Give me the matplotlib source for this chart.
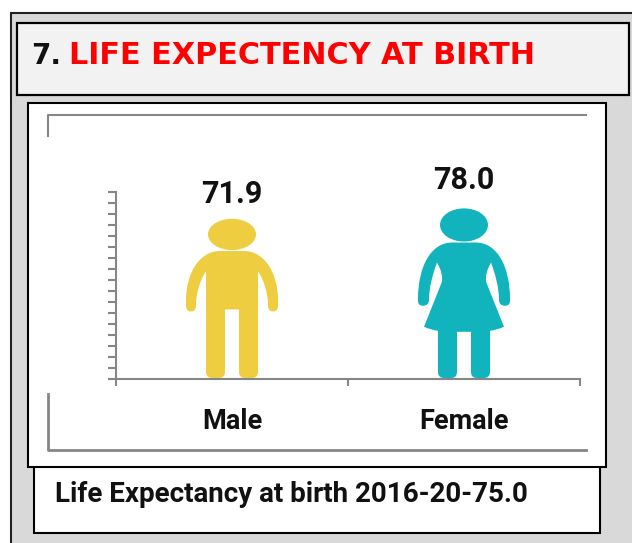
import matplotlib
matplotlib.use("Agg")
import matplotlib.pyplot as plt
from matplotlib.patches import Rectangle, Ellipse, PathPatch
from matplotlib.path import Path

# data
categories = ["Male", "Female"]
life_expectancy = [71.9, 78.0]
icon_colors = ["#EFCD41", "#11B4BD"]
y_ticks = list(range(0, 90, 5))
section_number = "7."
section_title = "LIFE EXPECTENCY AT BIRTH"
footer_note = "Life Expectancy at birth 2016-20-75.0"

W, H = 632, 543
GREY = "#868686"
BODY_FONT = "Roboto"

# icon outlines, right half only: (x, height) in px of the drawn figure
MALE_HALF = [
    (Path.LINETO, [(12, 127)]),
    (Path.CURVE4, [(32, 127), (46, 106), (46, 78)]),
    (Path.LINETO, [(46, 73)]),
    (Path.CURVE3, [(46, 67), (41, 67)]),
    (Path.CURVE3, [(36, 67), (36, 73)]),
    (Path.CURVE4, [(36, 85), (32, 98), (26, 107)]),
    (Path.LINETO, [(26, 7)]),
    (Path.CURVE3, [(26, 1), (20, 1)]),
    (Path.LINETO, [(13, 1)]),
    (Path.CURVE3, [(7, 1), (7, 7)]),
    (Path.LINETO, [(7, 69)]),
    (Path.LINETO, [(0, 69)]),
]
MALE_START = (0, 127)
MALE_HEAD = (143.5, 48, 31)

FEMALE_HALF = [
    (Path.LINETO, [(12, 136)]),
    (Path.CURVE4, [(33, 136), (46, 112), (46, 80)]),
    (Path.LINETO, [(46, 78)]),
    (Path.CURVE3, [(46, 73), (41, 73)]),
    (Path.CURVE3, [(35, 73), (35, 79)]),
    (Path.CURVE4, [(35, 92), (31, 105), (27, 116)]),
    (Path.CURVE3, [(21, 106), (22, 97)]),
    (Path.LINETO, [(40, 52)]),
    (Path.CURVE3, [(33, 49), (26, 48)]),
    (Path.LINETO, [(26, 7)]),
    (Path.CURVE3, [(26, 1), (20, 1)]),
    (Path.LINETO, [(13, 1)]),
    (Path.CURVE3, [(7, 1), (7, 7)]),
    (Path.LINETO, [(7, 47)]),
    (Path.LINETO, [(0, 47)]),
]
FEMALE_START = (0, 136)
FEMALE_HEAD = (153.5, 48, 33)


def outline(start, half):
    # mirror the right half to get the whole figure
    verts = [start]
    codes = [Path.MOVETO]
    for code, pts in half:
        verts += pts
        codes += [code] * len(pts)
    back = []
    for code, pts in half[::-1]:
        back += [code] * len(pts)
    verts = verts + [(-x, y) for x, y in verts[::-1]][1:]
    codes = codes + back
    verts.append(start)
    codes.append(Path.CLOSEPOLY)
    return verts, codes


def draw_icon(ax, pos, value, start, half, head, color, tall):
    # px outline scaled to the axis so the figure's height follows the value
    sy = value / tall
    sx = 1 / 232
    verts, codes = outline(start, half)
    verts = [(pos + x * sx, y * sy) for x, y in verts]
    ax.add_patch(PathPatch(Path(verts, codes), fc=color, ec="none", zorder=3))
    ax.add_patch(Ellipse((pos, head[0] * sy), head[1] * sx, head[2] * sy,
                         fc=color, ec="none", zorder=3))


fig = plt.figure(figsize=(W / 100, H / 100), dpi=100, facecolor="white")

# page furniture in pixel coordinates
bg = fig.add_axes([0, 0, 1, 1])
bg.set_xlim(0, W)
bg.set_ylim(H, 0)
bg.axis("off")
bg.add_patch(Rectangle((11, 13), 640, 560, fc="#D9D9D9", ec="#222222", lw=1.5))
bg.add_patch(Rectangle((17, 23), 612, 72, fc="#F2F2F2", ec="black", lw=1.6))
bg.add_patch(Rectangle((34, 460), 566, 73, fc="white", ec="black", lw=1.5))
bg.add_patch(Rectangle((28, 103), 578, 364, fc="white", ec="black", lw=1.5))
bg.plot([48, 48, 586], [136, 115, 115], color=GREY, lw=1.5)
bg.plot([48, 48, 586], [394, 450, 450], color=GREY, lw=2)
bg.text(31, 56, section_number, fontsize=20, fontweight="bold", family="DejaVu Sans",
        color="#111111", va="center")
bg.text(69, 56, section_title, fontsize=21.8, fontweight="bold", family="DejaVu Sans",
        color="#FF0000", va="center")
bg.text(55, 494, footer_note, fontsize=20, fontweight="bold", family=BODY_FONT,
        color="#111111", va="center")

# chart
ax = fig.add_axes([116 / W, 1 - 379 / H, 464 / W, 187 / H])
ax.patch.set_alpha(0)
ax.set_xlim(-0.5, 1.5)
ax.set_ylim(0, 85)
for s in ["top", "right"]:
    ax.spines[s].set_visible(False)
for s in ["left", "bottom"]:
    ax.spines[s].set_color(GREY)
    ax.spines[s].set_linewidth(1.5)

ax.set_yticks(y_ticks)
ax.tick_params(axis="y", length=6, width=1.5, color=GREY, labelleft=False)
ax.set_xticks([-0.5, 0.5, 1.5])
ax.set_xticklabels([])
ax.tick_params(axis="x", which="major", length=5, width=1.5, color=GREY)
ax.set_xticks(range(len(categories)), minor=True)
ax.set_xticklabels(categories, minor=True, fontsize=19.5, fontweight="bold",
                   family=BODY_FONT, color="#111111")
ax.tick_params(axis="x", which="minor", length=0, pad=21)

draw_icon(ax, 0, life_expectancy[0], MALE_START, MALE_HALF, MALE_HEAD, icon_colors[0], 157)
draw_icon(ax, 1, life_expectancy[1], FEMALE_START, FEMALE_HALF, FEMALE_HEAD, icon_colors[1], 171)

for i, v in enumerate(life_expectancy):
    ax.annotate(f"{v:.1f}", (i, v), xytext=(0, 27 * 0.72), textcoords="offset points",
                ha="center", va="center", fontsize=22, fontweight="bold",
                family=BODY_FONT, color="#111111", annotation_clip=False)

fig.savefig("out.png", dpi=100)
